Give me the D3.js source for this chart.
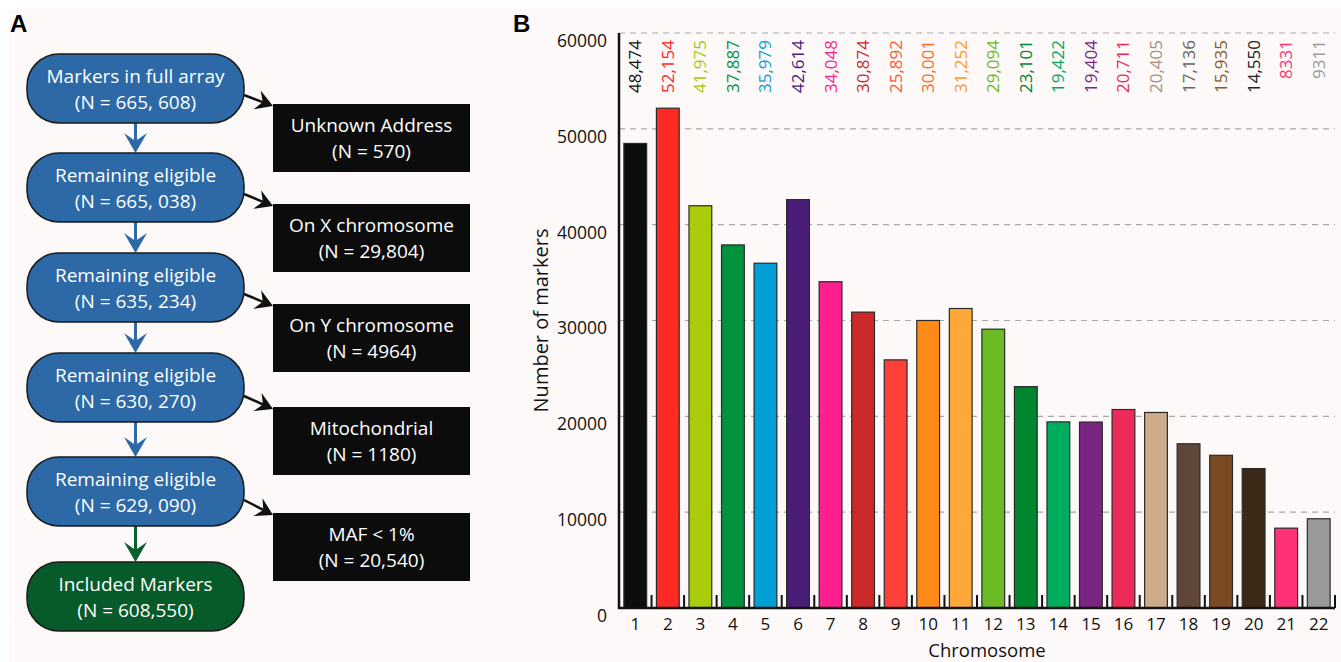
<!DOCTYPE html>
<html>
<head>
<meta charset="utf-8">
<script src="https://cdn.jsdelivr.net/npm/d3@7"></script>
<style>
  html, body { margin: 0; padding: 0; background: #ffffff; }
  svg { display: block; }
  text { font-family: "Open Sans", "Noto Sans", sans-serif; }
</style>
</head>
<body>
<svg id="chart" width="1341" height="662"></svg>
<script>
// ---------- DATA ----------
const chromosomes = ["1","2","3","4","5","6","7","8","9","10","11","12","13","14","15","16","17","18","19","20","21","22"];
const markerCounts = [48474, 52154, 41975, 37887, 35979, 42614, 34048, 30874, 25892, 30001, 31252, 29094, 23101, 19422, 19404, 20711, 20405, 17136, 15935, 14550, 8331, 9311];
const countLabels = ["48,474","52,154","41,975","37,887","35,979","42,614","34,048","30,874","25,892","30,001","31,252","29,094","23,101","19,422","19,404","20,711","20,405","17,136","15,935","14,550","8331","9311"];
const barColors = ["#0d0d0d","#ff2a24","#aacc0a","#00923c","#00a0d6","#4a1e78","#ff1f8e","#cc2a2a","#ff4038","#ff8a18","#ffa83a","#6cba24","#00852f","#00ad5f","#7a2581","#ee2a5a","#cbab8a","#5e473a","#7a4a25","#3d2918","#ff3278","#999999"];
const labelColors = ["#111111","#ff2a24","#a8c80a","#00923c","#0aa0d8","#4a1e78","#ff1f8e","#cc2a2a","#ff5a36","#ff6a2a","#ff9a2a","#6cba24","#00852f","#00ad5f","#7a2581","#ee2a5a","#a89080","#6b6360","#8b5a2b","#222222","#ff3278","#999999"];
const yTicks = [0, 10000, 20000, 30000, 40000, 50000, 60000];

const stepTitles = ["Markers in full array","Remaining eligible","Remaining eligible","Remaining eligible","Remaining eligible","Included Markers"];
const stepCounts = ["(N = 665, 608)","(N = 665, 038)","(N = 635, 234)","(N = 630, 270)","(N = 629, 090)","(N = 608,550)"];
const excludedTitles = ["Unknown Address","On X chromosome","On Y chromosome","Mitochondrial","MAF < 1%"];
const excludedCounts = ["(N = 570)","(N = 29,804)","(N = 4964)","(N = 1180)","(N = 20,540)"];

// ---------- SETUP ----------
const svg = d3.select("#chart");
svg.append("rect").attr("x", 9).attr("y", 9).attr("width", 1341 - 9).attr("height", 662 - 9).attr("fill", "#fdf9f8");

// Panel letters
svg.append("text").attr("x", 10).attr("y", 32).attr("font-size", 24).attr("font-weight", "bold")
  .style("font-family", "'Liberation Sans', Arial, sans-serif").text("A");
svg.append("text").attr("x", 513).attr("y", 32).attr("font-size", 24).attr("font-weight", "bold")
  .style("font-family", "'Liberation Sans', Arial, sans-serif").text("B");

// ---------- PANEL A: flowchart ----------
const pillX = 27, pillW = 217, pillH = 69;
const pillTops = [54, 153, 253, 353, 457, 562];
const boxX = 273, boxW = 197, boxH = 68;
const boxTops = [104, 204, 304, 407, 513];
const pillColors = ["#2c69a6","#2c69a6","#2c69a6","#2c69a6","#2c69a6","#075b2a"];
const pillCx = pillX + pillW / 2;
const flowFont = 19;

function arrowHead(tx, ty, dx, dy, len, halfW, notch) {
  const L = Math.hypot(dx, dy); const ux = dx / L, uy = dy / L;
  const nx = -uy, ny = ux;
  const bx = tx - ux * len, by = ty - uy * len;
  const p = [[tx, ty], [bx + nx * halfW, by + ny * halfW], [tx - ux * (len - notch), ty - uy * (len - notch)], [bx - nx * halfW, by - ny * halfW]];
  return { path: "M" + p.map(q => q.join(",")).join("L") + "Z", notch: p[2] };
}

const gA = svg.append("g");
// down arrows
for (let i = 0; i < pillTops.length - 1; i++) {
  const col = i === pillTops.length - 2 ? "#0b5f2e" : "#2c69a6";
  const y0 = pillTops[i] + pillH, y1 = pillTops[i + 1];
  const ah = arrowHead(pillCx, y1, 0, 1, 20, 11.5, 8);
  gA.append("line").attr("x1", pillCx).attr("x2", pillCx).attr("y1", y0).attr("y2", ah.notch[1] + 1)
    .attr("stroke", col).attr("stroke-width", 3);
  gA.append("path").attr("d", ah.path).attr("fill", col);
}
// side arrows
for (let i = 0; i < boxTops.length; i++) {
  const sx = pillX + pillW, sy = pillTops[i] + 41 + (i >= 3 ? 2 : 0);
  const tx = boxX, ty = boxTops[i] + 2;
  const ah = arrowHead(tx, ty, tx - sx, ty - sy, 17, 10, 6);
  gA.append("line").attr("x1", sx).attr("y1", sy).attr("x2", ah.notch[0]).attr("y2", ah.notch[1])
    .attr("stroke", "#111").attr("stroke-width", 2.5);
  gA.append("path").attr("d", ah.path).attr("fill", "#111");
}
// pills
pillTops.forEach((t, i) => {
  gA.append("rect").attr("x", pillX).attr("y", t).attr("width", pillW).attr("height", pillH)
    .attr("rx", 32).attr("ry", 32).attr("fill", pillColors[i]).attr("stroke", "#1a1a1a").attr("stroke-width", 1.5);
  const c = t + pillH / 2;
  gA.append("text").attr("x", pillCx).attr("y", c - 6).attr("text-anchor", "middle").attr("font-size", flowFont)
    .attr("fill", "#ffffff").text(stepTitles[i]);
  gA.append("text").attr("x", pillCx).attr("y", c + 20).attr("text-anchor", "middle").attr("font-size", flowFont)
    .attr("fill", "#ffffff").text(stepCounts[i]);
});
// black boxes
boxTops.forEach((t, i) => {
  gA.append("rect").attr("x", boxX).attr("y", t).attr("width", boxW).attr("height", boxH).attr("fill", "#0c0c0c");
  const c = t + boxH / 2;
  gA.append("text").attr("x", boxX + boxW / 2).attr("y", c - 6).attr("text-anchor", "middle").attr("font-size", flowFont)
    .attr("fill", "#ffffff").text(excludedTitles[i]);
  gA.append("text").attr("x", boxX + boxW / 2).attr("y", c + 20).attr("text-anchor", "middle").attr("font-size", flowFont)
    .attr("fill", "#ffffff").text(excludedCounts[i]);
});

// ---------- PANEL B: bar chart ----------
const pLeft = 619, pRight = 1335, pTop = 33, pBottom = 608;
const x = d3.scaleBand().domain(chromosomes).range([pLeft, pRight]).paddingInner(0.3).paddingOuter(0.15);
const y = d3.scaleLinear().domain([0, 60000]).range([pBottom, pTop]);
const gB = svg.append("g");

// gridlines
gB.selectAll("line.grid").data(yTicks.filter(d => d > 0)).enter().append("line")
  .attr("class", "grid").attr("x1", pLeft).attr("x2", pRight)
  .attr("y1", d => y(d)).attr("y2", d => y(d))
  .attr("stroke", "#a8a8a8").attr("stroke-width", 1.2).attr("stroke-dasharray", "6,5");

// bars
gB.selectAll("rect.bar").data(markerCounts).enter().append("rect")
  .attr("class", "bar")
  .attr("x", (d, i) => x(chromosomes[i]))
  .attr("width", x.bandwidth())
  .attr("y", d => y(d))
  .attr("height", d => pBottom - y(d))
  .attr("fill", (d, i) => barColors[i])
  .attr("stroke", "#2a2a2a").attr("stroke-width", 1.2);

// value labels
gB.selectAll("text.val").data(countLabels).enter().append("text")
  .attr("class", "val")
  .attr("transform", (d, i) => `translate(${x(chromosomes[i]) + x.bandwidth() / 2 + 6},40) rotate(-90)`)
  .attr("text-anchor", "end").attr("font-size", 17)
  .attr("fill", (d, i) => labelColors[i]).text(d => d);

// y axis
const yAxis = d3.axisLeft(y).tickValues(yTicks).tickSize(0).tickPadding(12).tickFormat(d3.format("d"));
const ya = gB.append("g").attr("transform", `translate(${pLeft},0)`).call(yAxis);
ya.select(".domain").remove();
ya.selectAll("text").attr("font-size", 17.5).attr("fill", "#111")
  .style("font-family", "'Open Sans', sans-serif").attr("dy", "0.77em");
gB.append("line").attr("x1", pLeft).attr("x2", pLeft).attr("y1", pTop).attr("y2", pBottom + 1)
  .attr("stroke", "#111").attr("stroke-width", 2.5);

// x axis
const xAxis = d3.axisBottom(x).tickSize(0).tickPadding(10);
const xa = gB.append("g").attr("transform", `translate(0,${pBottom})`).call(xAxis);
xa.select(".domain").remove();
xa.selectAll("text").attr("font-size", 17).attr("fill", "#111")
  .style("font-family", "'Open Sans', sans-serif");
// boundary ticks between bars
const boundaries = chromosomes.slice(1).map(c => x(c) - x.step() * x.paddingInner() / 2);
boundaries.push(pRight);
gB.selectAll("line.btick").data(boundaries).enter().append("line")
  .attr("class", "btick").attr("x1", d => d).attr("x2", d => d)
  .attr("y1", pBottom).attr("y2", pBottom - 13)
  .attr("stroke", "#111").attr("stroke-width", 2);
gB.append("line").attr("x1", pLeft - 1).attr("x2", pRight).attr("y1", pBottom).attr("y2", pBottom)
  .attr("stroke", "#111").attr("stroke-width", 2.5);

// axis titles
gB.append("text").attr("transform", `translate(548,${(pTop + pBottom) / 2}) rotate(-90)`)
  .attr("text-anchor", "middle").attr("font-size", 20).attr("fill", "#111").text("Number of markers");
gB.append("text").attr("x", 987).attr("y", 656.5).attr("text-anchor", "middle")
  .attr("font-size", 18.5).attr("fill", "#111").text("Chromosome");
</script>
</body>
</html>
